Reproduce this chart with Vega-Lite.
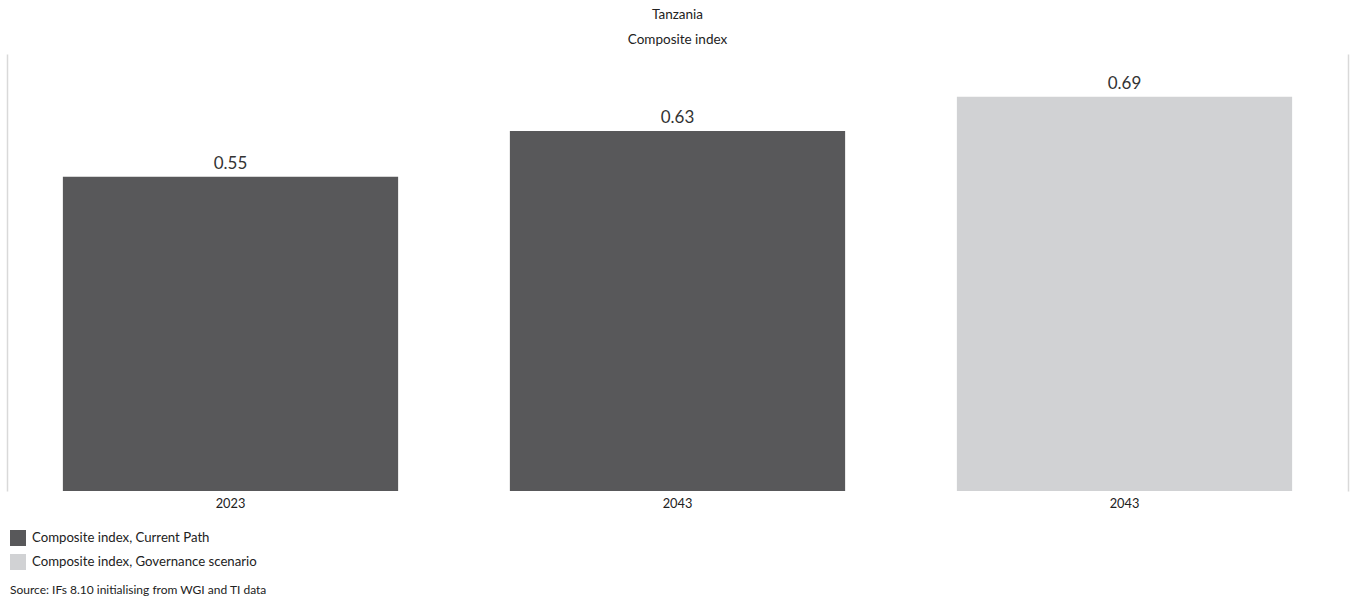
{
  "$schema": "https://vega.github.io/schema/vega-lite/v6.json",
  "width": 1341,
  "height": 437,
  "autosize": {"type": "none"},
  "padding": {"left": 7, "top": 54, "right": 6, "bottom": 110},
  "background": "white",
  "config": {
    "font": "Lato",
    "view": {"stroke": null}
  },
  "title": {
    "text": "Tanzania",
    "subtitle": "Composite index",
    "anchor": "middle",
    "frame": "group",
    "fontSize": 13.5,
    "fontWeight": "normal",
    "color": "#222222",
    "subtitleFontSize": 13.5,
    "subtitleColor": "#222222",
    "subtitlePadding": 11,
    "offset": 8,
    "limit": 0
  },
  "data": {
    "values": [
      {"slot": "2023|cp", "year": "2023", "scenario": "Composite index, Current Path", "value": 0.55},
      {"slot": "2043|cp", "year": "2043", "scenario": "Composite index, Current Path", "value": 0.63},
      {"slot": "2043|gov", "year": "2043", "scenario": "Composite index, Governance scenario", "value": 0.69}
    ]
  },
  "encoding": {
    "x": {
      "field": "slot",
      "type": "nominal",
      "sort": null,
      "scale": {"paddingInner": 0.25, "paddingOuter": 0.125},
      "axis": {
        "title": null,
        "labelAngle": 0,
        "labelExpr": "split(datum.label, '|')[0]",
        "labelFontSize": 12.8,
        "labelColor": "#222222",
        "labelPadding": 6,
        "ticks": false,
        "domain": false
      }
    },
    "y": {
      "field": "value",
      "type": "quantitative",
      "scale": {"domain": [0, 0.765], "nice": false}
    }
  },
  "layer": [
    {
      "mark": {"type": "bar"},
      "encoding": {
        "y": {
          "field": "value",
          "type": "quantitative",
          "axis": {
            "orient": "left",
            "title": null,
            "labels": false,
            "ticks": false,
            "grid": false,
            "domain": true,
            "domainColor": "#d9d9d9",
            "domainWidth": 1.5
          }
        },
        "color": {
          "field": "scenario",
          "type": "nominal",
          "scale": {
            "domain": ["Composite index, Current Path", "Composite index, Governance scenario"],
            "range": ["#58585a", "#d1d2d4"]
          },
          "legend": {
            "orient": "none",
            "legendX": 3,
            "legendY": 476,
            "title": "Source: IFs 8.10 initialising from WGI and TI data",
            "titleOrient": "bottom",
            "titleFontSize": 12,
            "titleFontWeight": "normal",
            "titleColor": "#222222",
            "titlePadding": 15,
            "titleLimit": 0,
            "symbolType": "square",
            "symbolSize": 256,
            "symbolStrokeWidth": 0,
            "symbolOpacity": 1,
            "labelFontSize": 13.2,
            "labelColor": "#222222",
            "labelOffset": 6,
            "labelLimit": 0,
            "rowPadding": 8,
            "padding": 0
          }
        }
      }
    },
    {
      "mark": {"type": "text", "baseline": "bottom", "dy": -4, "fontSize": 17, "color": "#333333"},
      "encoding": {
        "y": {
          "field": "value",
          "type": "quantitative",
          "axis": {
            "orient": "right",
            "title": null,
            "labels": false,
            "ticks": false,
            "grid": false,
            "domain": true,
            "domainColor": "#d9d9d9",
            "domainWidth": 1.5
          }
        },
        "text": {"field": "value", "type": "quantitative", "format": ".2f"}
      }
    }
  ],
  "resolve": {"axis": {"y": "independent"}}
}
